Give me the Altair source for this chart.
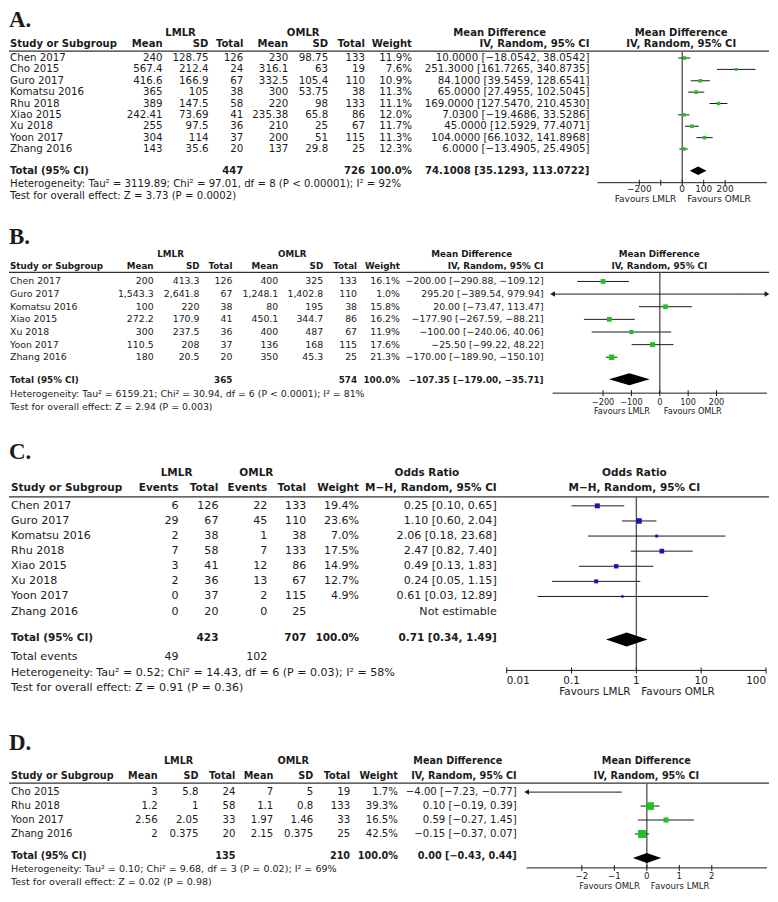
import altair as alt
import pandas as pd

# ===================== DATA =====================
# ---- A. Mean difference ----
A_study = ["Chen 2017", "Cho 2015", "Guro 2017", "Komatsu 2016", "Rhu 2018",
           "Xiao 2015", "Xu 2018", "Yoon 2017", "Zhang 2016"]
A_l_mean = [240, 567.4, 416.6, 365, 389, 242.41, 255, 304, 143]
A_l_sd = [128.75, 212.4, 166.9, 105, 147.5, 73.69, 97.5, 114, 35.6]
A_l_n = [126, 24, 67, 38, 58, 41, 36, 37, 20]
A_o_mean = [230, 316.1, 332.5, 300, 220, 235.38, 210, 200, 137]
A_o_sd = [98.75, 63, 105.4, 53.75, 98, 65.8, 25, 51, 29.8]
A_o_n = [133, 19, 110, 38, 133, 86, 67, 115, 25]
A_weight = [11.9, 7.6, 10.9, 11.3, 11.1, 12.0, 11.7, 11.3, 12.3]
A_est = [10.0, 251.3, 84.1, 65.0, 169.0, 7.03, 45.0, 104.0, 6.0]
A_lo = [-18.0542, 161.7265, 39.5459, 27.4955, 127.5470, -19.4686, 12.5929, 66.1032, -13.4905]
A_hi = [38.0542, 340.8735, 128.6541, 102.5045, 210.4530, 33.5286, 77.4071, 141.8968, 25.4905]
A_total = [447, 726]
A_pooled = [74.1008, 35.1293, 113.0722]
A_het = "Heterogeneity: Tau² = 3119.89; Chi² = 97.01, df = 8 (P < 0.00001); I² = 92%"
A_test = "Test for overall effect: Z = 3.73 (P = 0.0002)"
A_ticks = [-200, -100, 0, 100, 200]
A_tick_labels = ["\u2212200", "", "0", "100", "200"]

# ---- B. Mean difference ----
B_study = ["Chen 2017", "Guro 2017", "Komatsu 2016", "Xiao 2015", "Xu 2018", "Yoon 2017", "Zhang 2016"]
B_l_mean = [200, 1543.3, 100, 272.2, 300, 110.5, 180]
B_l_sd = [413.3, 2641.8, 220, 170.9, 237.5, 208, 20.5]
B_l_n = [126, 67, 38, 41, 36, 37, 20]
B_o_mean = [400, 1248.1, 80, 450.1, 400, 136, 350]
B_o_sd = [325, 1402.8, 195, 344.7, 487, 168, 45.3]
B_o_n = [133, 110, 38, 86, 67, 115, 25]
B_weight = [16.1, 1.0, 15.8, 16.2, 11.9, 17.6, 21.3]
B_est = [-200.00, 295.20, 20.00, -177.90, -100.00, -25.50, -170.00]
B_lo = [-290.88, -389.54, -73.47, -267.59, -240.06, -99.22, -189.90]
B_hi = [-109.12, 979.94, 113.47, -88.21, 40.06, 48.22, -150.10]
B_total = [365, 574]
B_pooled = [-107.35, -179.00, -35.71]
B_het = "Heterogeneity: Tau² = 6159.21; Chi² = 30.94, df = 6 (P < 0.0001); I² = 81%"
B_test = "Test for overall effect: Z = 2.94 (P = 0.003)"
B_ticks = [-200, -100, 0, 100, 200]
B_tick_labels = ["\u2212200", "\u2212100", "0", "100", "200"]

# ---- C. Odds ratio ----
C_study = ["Chen 2017", "Guro 2017", "Komatsu 2016", "Rhu 2018", "Xiao 2015",
           "Xu 2018", "Yoon 2017", "Zhang 2016"]
C_l_ev = [6, 29, 2, 7, 3, 2, 0, 0]
C_l_n = [126, 67, 38, 58, 41, 36, 37, 20]
C_o_ev = [22, 45, 1, 7, 12, 13, 2, 0]
C_o_n = [133, 110, 38, 133, 86, 67, 115, 25]
C_weight = [19.4, 23.6, 7.0, 17.5, 14.9, 12.7, 4.9, None]
C_est = [0.25, 1.10, 2.06, 2.47, 0.49, 0.24, 0.61, None]
C_lo = [0.10, 0.60, 0.18, 0.82, 0.13, 0.05, 0.03, None]
C_hi = [0.65, 2.04, 23.68, 7.40, 1.83, 1.15, 12.89, None]
C_total = [423, 707]
C_events = [49, 102]
C_pooled = [0.71, 0.34, 1.49]
C_het = "Heterogeneity: Tau² = 0.52; Chi² = 14.43, df = 6 (P = 0.03); I² = 58%"
C_test = "Test for overall effect: Z = 0.91 (P = 0.36)"
C_ticks = [0.01, 0.1, 1, 10, 100]
C_tick_labels = ["0.01", "0.1", "1", "10", "100"]

# ---- D. Mean difference ----
D_study = ["Cho 2015", "Rhu 2018", "Yoon 2017", "Zhang 2016"]
D_l_mean = [3, 1.2, 2.56, 2]
D_l_sd = [5.8, 1, 2.05, 0.375]
D_l_n = [24, 58, 33, 20]
D_o_mean = [7, 1.1, 1.97, 2.15]
D_o_sd = [5, 0.8, 1.46, 0.375]
D_o_n = [19, 133, 33, 25]
D_weight = [1.7, 39.3, 16.5, 42.5]
D_est = [-4.00, 0.10, 0.59, -0.15]
D_lo = [-7.23, -0.19, -0.27, -0.37]
D_hi = [-0.77, 0.39, 1.45, 0.07]
D_total = [135, 210]
D_pooled = [0.00, -0.43, 0.44]
D_het = "Heterogeneity: Tau² = 0.10; Chi² = 9.68, df = 3 (P = 0.02); I² = 69%"
D_test = "Test for overall effect: Z = 0.02 (P = 0.98)"
D_ticks = [-2, -1, 0, 1, 2]
D_tick_labels = ["\u22122", "\u22121", "0", "1", "2"]

# ===================== STYLE / LAYOUT =====================
FONT = "DejaVu Sans"
SERIF = "Liberation Serif"
INK = "#1b1b1b"
GREEN = "#1fc21f"
BLUE = "#1515b5"
MINUS = "\u2212"
W = 762
OX = 8


def num(v):
    return f"{v:,g}".replace("-", MINUS)


def dec(v, d):
    return f"{v:.{d}f}".replace("-", MINUS)


def ci(e, lo, hi, d):
    return f"{dec(e, d)} [{dec(lo, d)}, {dec(hi, d)}]"


def pct(w):
    return "" if w is None else f"{w:.1f}%"


def build(cfg):
    top, H = cfg["top"], cfg["height"]
    fs, bfs, afs, ffs = cfg["font"], cfg["bfont"], cfg["axis_font"], cfg["foot_font"]
    ys = alt.Scale(domain=[0, H], range=[0, H], nice=False, zero=False)
    xt = alt.Scale(domain=[0, W], range=[0, W], nice=False, zero=False)
    fkw = dict(type=cfg["ftype"], domain=cfg["fdomain"],
               range=[cfg["frange"][0] - OX, cfg["frange"][1] - OX], nice=False)
    if cfg["ftype"] == "linear":
        fkw["zero"] = False
    xf = alt.Scale(**fkw)

    def py(v):
        return v - top

    def px(v):
        return v - OX

    T = []

    def add(x, y, t, k):
        T.append(dict(x=px(x), y=py(y), t=t, k=k))

    add(cfg["label_x"], cfg["label_y"], cfg["label"], "lab")
    for t, x in cfg["groups"]:
        add(x, cfg["group_y"], t, "cb")
    add(cfg["study_x"], cfg["head_y"], "Study or Subgroup", "lb")
    add(cfg["forest_head_x"], cfg["head_y"], cfg["forest_sub"], "cb")
    n = len(cfg["study"])
    row_y = [cfg["row0"] + i * cfg["step"] for i in range(n)]
    for i, s in enumerate(cfg["study"]):
        add(cfg["study_x"], row_y[i], s, "l")
    for head, vals, xr, tot in cfg["cols"]:
        add(xr, cfg["head_y"], head, "rb")
        for i, v in enumerate(vals):
            if v:
                add(xr, row_y[i], v, "r")
        if tot:
            add(xr, cfg["total_y"], tot, "rb")
    add(cfg["study_x"], cfg["total_y"], "Total (95% CI)", "lb")
    for t, x, y, k in cfg.get("extra", []):
        add(x, y, t, k)
    add(cfg["study_x"], cfg["het_y"], cfg["het"], "f")
    add(cfg["study_x"], cfg["test_y"], cfg["test"], "f")
    tdf = pd.DataFrame(T)

    def tlayer(kind, align, weight, size, font=FONT):
        return alt.Chart(tdf).transform_filter(alt.datum.k == kind).mark_text(
            align=align, baseline="middle", font=font, fontSize=size,
            fontWeight=weight, color=INK
        ).encode(x=alt.X("x:Q", scale=xt, axis=None),
                 y=alt.Y("y:Q", scale=ys, axis=None), text="t:N")

    layers = []
    # header rule
    hdf = pd.DataFrame(dict(x=[0], x2=[W], y=[py(cfg["line_y"])]))
    layers.append(alt.Chart(hdf).mark_rule(color="#333333", strokeWidth=1.2).encode(
        x=alt.X("x:Q", scale=xt, axis=None), x2="x2:Q", y=alt.Y("y:Q", scale=ys, axis=None)))

    # forest: null line
    zdf = pd.DataFrame(dict(x=[cfg["null"]], y=[py(cfg["line_y"])], y2=[py(cfg["axis_y"])]))
    layers.append(alt.Chart(zdf).mark_rule(color="#5a5a5a", strokeWidth=1.4).encode(
        x=alt.X("x:Q", scale=xf, axis=None), y=alt.Y("y:Q", scale=ys, axis=None), y2="y2:Q"))

    d0, d1 = cfg["fdomain"]
    R, S, AL, AR = [], [], [], []
    for i in range(n):
        e = cfg["est"][i]
        if e is None:
            continue
        lo, hi = cfg["lo"][i], cfg["hi"][i]
        R.append(dict(y=py(row_y[i]), lo=max(lo, d0), hi=min(hi, d1)))
        if d0 <= e <= d1:
            S.append(dict(y=py(row_y[i]), e=e, w=cfg["weight"][i]))
        if lo < d0:
            AL.append(dict(x=d0, y=py(row_y[i])))
        if hi > d1:
            AR.append(dict(x=d1, y=py(row_y[i])))
    layers.append(alt.Chart(pd.DataFrame(R)).mark_rule(color=INK, strokeWidth=1).encode(
        x=alt.X("lo:Q", scale=xf, axis=None), x2="hi:Q", y=alt.Y("y:Q", scale=ys, axis=None)))
    for pts, shp, dx in [(AL, "triangle-left", 2.5), (AR, "triangle-right", -2.5)]:
        if pts:
            layers.append(alt.Chart(pd.DataFrame(pts)).mark_point(
                filled=True, color=INK, opacity=1, size=30, shape=shp, dx=dx).encode(
                x=alt.X("x:Q", scale=xf, axis=None), y=alt.Y("y:Q", scale=ys, axis=None)))
    layers.append(alt.Chart(pd.DataFrame(S)).mark_square(filled=True, color=cfg["color"], opacity=1).encode(
        x=alt.X("e:Q", scale=xf, axis=None), y=alt.Y("y:Q", scale=ys, axis=None),
        size=alt.Size("w:Q", scale=alt.Scale(domain=[0, cfg["maxw"]], range=[0, cfg["maxarea"]]), legend=None)))

    # pooled diamond
    pe, pl, ph = cfg["pooled"]
    yc, hh = py(cfg["diamond_y"]), cfg["dh"]
    ddf = pd.DataFrame(dict(x=[pl, pe, ph], y=[yc, yc - hh, yc], y2=[yc, yc + hh, yc]))
    layers.append(alt.Chart(ddf).mark_area(color="#000000", opacity=1).encode(
        x=alt.X("x:Q", scale=xf, axis=None), y=alt.Y("y:Q", scale=ys, axis=None), y2="y2:Q"))

    # axis
    ay = py(cfg["axis_y"])
    adf = pd.DataFrame(dict(x=[d0], x2=[d1], y=[ay]))
    layers.append(alt.Chart(adf).mark_rule(color=INK, strokeWidth=1).encode(
        x=alt.X("x:Q", scale=xf, axis=None), x2="x2:Q", y=alt.Y("y:Q", scale=ys, axis=None)))
    nt = len(cfg["ticks"])
    kdf = pd.DataFrame(dict(x=cfg["ticks"], y=[ay - 3] * nt, y2=[ay + 3] * nt,
                            t=cfg["tick_labels"], a=cfg["tick_align"], ty=[py(cfg["tick_y"])] * nt))
    layers.append(alt.Chart(kdf).mark_rule(color=INK, strokeWidth=1).encode(
        x=alt.X("x:Q", scale=xf, axis=None), y=alt.Y("y:Q", scale=ys, axis=None), y2="y2:Q"))
    for al in ["left", "center", "right"]:
        if al in cfg["tick_align"]:
            layers.append(alt.Chart(kdf).transform_filter(alt.datum.a == al).mark_text(
                align=al, baseline="middle", font=FONT, fontSize=afs, color=INK).encode(
                x=alt.X("x:Q", scale=xf, axis=None), y=alt.Y("ty:Q", scale=ys, axis=None), text="t:N"))
    fl, fr = cfg["fav"]
    dl, dr = cfg["fav_dx"]
    for lab, al, dx in [(fl, "right", dl), (fr, "left", dr)]:
        fdf = pd.DataFrame(dict(x=[cfg["null"]], y=[py(cfg["fav_y"])], t=[lab]))
        layers.append(alt.Chart(fdf).mark_text(
            align=al, dx=dx, baseline="middle", font=FONT, fontSize=afs, color=INK).encode(
            x=alt.X("x:Q", scale=xf, axis=None), y=alt.Y("y:Q", scale=ys, axis=None), text="t:N"))

    # table text
    layers += [
        tlayer("lab", "left", "bold", cfg["label_size"], SERIF),
        tlayer("cb", "center", "bold", bfs),
        tlayer("lb", "left", "bold", bfs),
        tlayer("l", "left", "normal", fs),
        tlayer("r", "right", "normal", fs),
        tlayer("rb", "right", "bold", bfs),
        tlayer("f", "left", "normal", ffs),
    ]
    return alt.layer(*layers).resolve_scale(x="independent").properties(width=W, height=H)


def md_cols(lm, lsd, ln, om, osd, on, w, est, lo, hi, tot, pooled, d, xs):
    return [
        ("Mean", [num(v) for v in lm], xs[0], ""),
        ("SD", [num(v) for v in lsd], xs[1], ""),
        ("Total", [str(v) for v in ln], xs[2], str(tot[0])),
        ("Mean", [num(v) for v in om], xs[3], ""),
        ("SD", [num(v) for v in osd], xs[4], ""),
        ("Total", [str(v) for v in on], xs[5], str(tot[1])),
        ("Weight", [pct(v) for v in w], xs[6], "100.0%"),
        ("IV, Random, 95% CI", [ci(e, a, b, d) for e, a, b in zip(est, lo, hi)], xs[7], ci(*pooled, d)),
    ]


cfgA = dict(
    label="A.", label_x=8, label_y=19, label_size=23, top=8, height=202,
    font=10.3, bfont=10.1, foot_font=10.2, axis_font=9.0,
    group_y=32, head_y=43, line_y=50, row0=57, step=11.4, total_y=170, het_y=183, test_y=195,
    study_x=9, study=A_study,
    groups=[("LMLR", 180), ("OMLR", 303), ("Mean Difference", 500), ("Mean Difference", 682)],
    forest_head_x=682, forest_sub="IV, Random, 95% CI",
    cols=md_cols(A_l_mean, A_l_sd, A_l_n, A_o_mean, A_o_sd, A_o_n, A_weight, A_est, A_lo, A_hi,
                 A_total, A_pooled, 4, [162, 208, 243, 288, 328, 365, 412, 590]),
    est=A_est, lo=A_lo, hi=A_hi, weight=A_weight,
    ftype="linear", fdomain=[-395, 395], frange=[598, 768], null=0,
    ticks=A_ticks, tick_labels=A_tick_labels, tick_align=["center"] * 5,
    axis_y=182, tick_y=188.5, fav_y=198, fav=("Favours LMLR", "Favours OMLR"), fav_dx=(-6, 5),
    color=GREEN, maxw=12.3, maxarea=14, pooled=A_pooled, diamond_y=170, dh=4.2,
    het=A_het, test=A_test)

cfgB = dict(
    label="B.", label_x=8, label_y=236, label_size=23, top=210, height=212,
    font=9.4, bfont=8.8, foot_font=9.4, axis_font=8.2,
    group_y=253, head_y=266, line_y=272, row0=281, step=12.67, total_y=380, het_y=394, test_y=407,
    study_x=9, study=B_study,
    groups=[("LMLR", 170), ("OMLR", 292), ("Mean Difference", 472), ("Mean Difference", 660)],
    forest_head_x=660, forest_sub="IV, Random, 95% CI",
    cols=md_cols(B_l_mean, B_l_sd, B_l_n, B_o_mean, B_o_sd, B_o_n, B_weight, B_est, B_lo, B_hi,
                 B_total, B_pooled, 2, [153, 199, 232, 278, 323, 357, 400, 544]),
    est=B_est, lo=B_lo, hi=B_hi, weight=B_weight,
    ftype="linear", fdomain=[-378, 378], frange=[553, 768], null=0,
    ticks=B_ticks, tick_labels=B_tick_labels, tick_align=["center"] * 5,
    axis_y=393, tick_y=403, fav_y=412, fav=("Favours LMLR", "Favours OMLR"), fav_dx=(-10, 4),
    color=GREEN, maxw=21.3, maxarea=30, pooled=B_pooled, diamond_y=379, dh=6,
    het=B_het, test=B_test)

cfgC = dict(
    label="C.", label_x=8, label_y=452, label_size=23, top=422, height=278,
    font=11.1, bfont=10.5, foot_font=11.1, axis_font=10.4,
    group_y=473, head_y=488, line_y=497, row0=506, step=15.14, total_y=639, het_y=674, test_y=689,
    study_x=10, study=C_study,
    groups=[("LMLR", 176), ("OMLR", 256), ("Odds Ratio", 427), ("Odds Ratio", 635)],
    forest_head_x=635, forest_sub="M\u2212H, Random, 95% CI",
    cols=[
        ("Events", [str(v) for v in C_l_ev], 178, ""),
        ("Total", [str(v) for v in C_l_n], 218, str(C_total[0])),
        ("Events", [str(v) for v in C_o_ev], 267, ""),
        ("Total", [str(v) for v in C_o_n], 306, str(C_total[1])),
        ("Weight", [pct(v) for v in C_weight], 359, "100.0%"),
        ("M\u2212H, Random, 95% CI",
         [ci(e, a, b, 2) if e is not None else "Not estimable" for e, a, b in zip(C_est, C_lo, C_hi)],
         497, ci(*C_pooled, 2)),
    ],
    extra=[("Total events", 10, 658, "l"), (str(C_events[0]), 178, 658, "r"), (str(C_events[1]), 267, 658, "r")],
    est=C_est, lo=C_lo, hi=C_hi, weight=C_weight,
    ftype="log", fdomain=[0.01, 100], frange=[507, 767], null=1,
    ticks=C_ticks, tick_labels=C_tick_labels, tick_align=["left", "center", "center", "center", "right"],
    axis_y=671, tick_y=682, fav_y=693, fav=("Favours LMLR", "Favours OMLR"), fav_dx=(-6, 5),
    color=BLUE, maxw=23.6, maxarea=30, pooled=C_pooled, diamond_y=640, dh=7,
    het=C_het, test=C_test)

cfgD = dict(
    label="D.", label_x=8, label_y=744, label_size=23, top=700, height=180,
    font=10.2, bfont=9.7, foot_font=9.6, axis_font=8.6,
    group_y=762, head_y=777, line_y=784, row0=793, step=14, total_y=857, het_y=870, test_y=883,
    study_x=10, study=D_study,
    groups=[("LMLR", 178), ("OMLR", 293), ("Mean Difference", 458), ("Mean Difference", 647)],
    forest_head_x=647, forest_sub="IV, Random, 95% CI",
    cols=md_cols(D_l_mean, D_l_sd, D_l_n, D_o_mean, D_o_sd, D_o_n, D_weight, D_est, D_lo, D_hi,
                 D_total, D_pooled, 2, [157, 198, 235, 273, 313, 350, 398, 517]),
    est=D_est, lo=D_lo, hi=D_hi, weight=D_weight,
    ftype="linear", fdomain=[-3.7, 3.7], frange=[527, 768], null=0,
    ticks=D_ticks, tick_labels=D_tick_labels, tick_align=["center"] * 5,
    axis_y=869, tick_y=877, fav_y=887, fav=("Favours OMLR", "Favours LMLR"), fav_dx=(-7, 4),
    color=GREEN, maxw=42.5, maxarea=64, pooled=D_pooled, diamond_y=859, dh=5,
    het=D_het, test=D_test)

chart = alt.vconcat(build(cfgA), build(cfgB), build(cfgC), build(cfgD), spacing=0).resolve_scale(
    size="independent", shape="independent"
).properties(padding=0).configure_view(stroke=None)

chart.save("out.html", embed_options={"renderer": "svg", "actions": False})
